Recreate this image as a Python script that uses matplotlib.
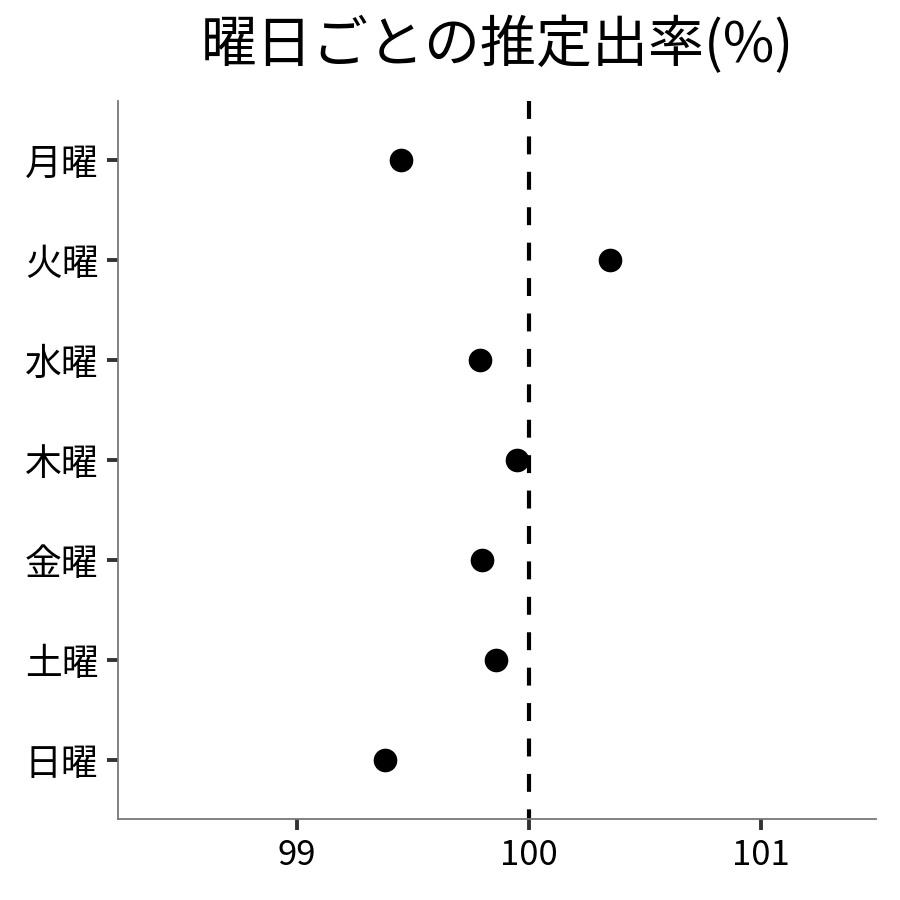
import matplotlib.pyplot as plt
import numpy as np

plt.rcParams['font.family'] = ['Noto Sans CJK JP', 'DejaVu Sans']

days = ['月曜', '火曜', '水曜', '木曜', '金曜', '土曜', '日曜']
rates = [99.45, 100.35, 99.79, 99.95, 99.80, 99.86, 99.38]
xticks = [99, 100, 101]
ref_line = 100

fig = plt.figure(figsize=(9, 9), dpi=100)
ax = fig.add_axes([0.131, 0.09, 0.842, 0.798])

pos = np.arange(len(days))
ax.scatter(rates, pos, s=290, color='black', zorder=3, linewidths=0)

ymin, ymax = -0.59, len(days) - 1 + 0.59
# draw the reference line from the top down so the dashes start at the top
ax.plot([ref_line, ref_line], [ymin, ymax], color='black', linewidth=3,
        linestyle=(0, (4.3, 4.2)), zorder=2, clip_on=False)

ax.set_ylim(ymax, ymin)
ax.set_xlim(98.228, 101.496)
ax.set_yticks(pos)
ax.set_yticklabels(days)
ax.set_xticks(xticks)
ax.set_xticklabels([str(t) for t in xticks])

for side in ['top', 'right']:
    ax.spines[side].set_visible(False)
for side in ['left', 'bottom']:
    ax.spines[side].set_color('#777777')
    ax.spines[side].set_linewidth(1.3)

ax.tick_params(axis='both', length=8, width=2.8, color='#333333',
               labelcolor='black', pad=6)
ax.tick_params(axis='y', labelsize=26.5)
ax.tick_params(axis='x', labelsize=25)

fig.text(497 / 900, 1 - 46 / 900, '曜日ごとの推定出率(%)', fontsize=40.3,
         ha='center', va='center')

fig.savefig('out.png', dpi=100, facecolor='white')
